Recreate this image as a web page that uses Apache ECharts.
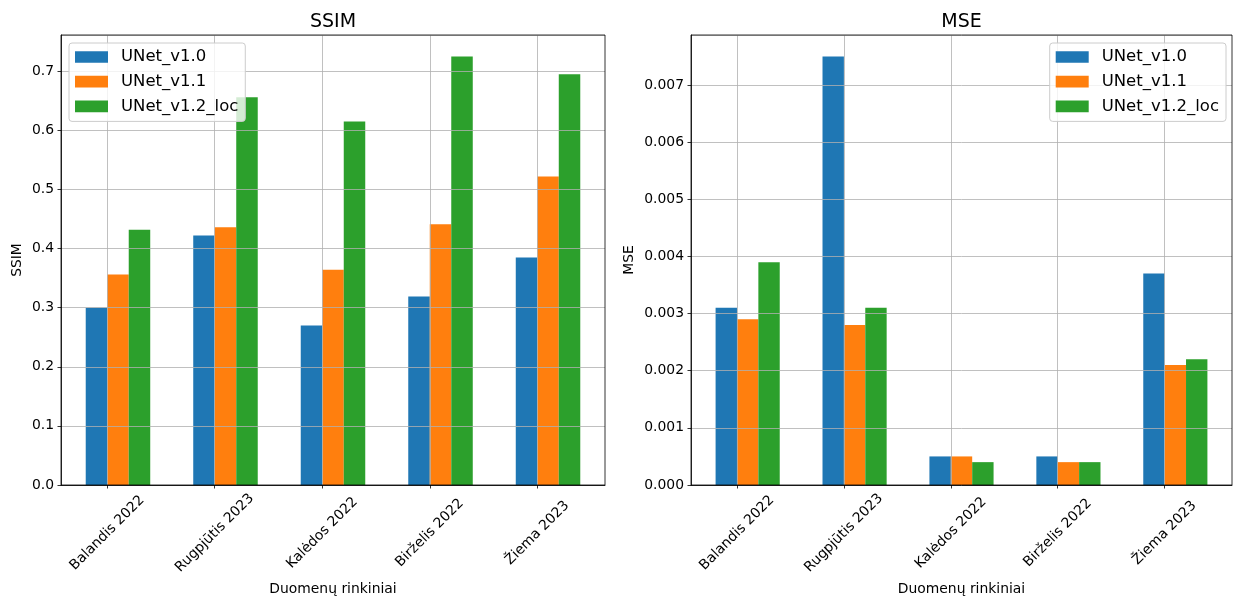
<!DOCTYPE html>
<html>
<head>
<meta charset="utf-8">
<script src="https://cdn.jsdelivr.net/npm/echarts@6/dist/echarts.min.js"></script>
<style>
  html, body { margin: 0; padding: 0; background: #ffffff; }
  #chart { width: 1237px; height: 596px; }
</style>
</head>
<body>
<div id="chart"></div>
<script>
// Datasets (x axis) and model versions (series)
const categories = ['Balandis 2022', 'Rugpjūtis 2023', 'Kalėdos 2022', 'Birželis 2022', 'Žiema 2023'];
const seriesNames = ['UNet_v1.0', 'UNet_v1.1', 'UNet_v1.2_loc'];
const seriesColors = ['#1f77b4', '#ff7f0e', '#2ca02c'];

// SSIM per dataset
const ssimV10 = [0.300, 0.422, 0.270, 0.319, 0.385];
const ssimV11 = [0.356, 0.436, 0.364, 0.441, 0.522];
const ssimV12 = [0.432, 0.656, 0.615, 0.725, 0.695];

// MSE per dataset
const mseV10 = [0.0031, 0.0075, 0.0005, 0.0005, 0.0037];
const mseV11 = [0.0029, 0.0028, 0.0005, 0.0004, 0.0021];
const mseV12 = [0.0039, 0.0031, 0.0004, 0.0004, 0.0022];

// Tick positions on the x axis (one per dataset)
const xTicks = [0, 1, 2, 3, 4];

const FONT = 'DejaVu Sans';
const BAR_W = 0.2;            // bar width in x-axis units
const X_MIN = -0.43, X_MAX = 4.63;
const GRID_COLOR = '#b0b0b0';

// bars are edge-aligned: the group of three starts one bar width left of the tick
const place = vals => vals.map((v, i) => [xTicks[i] + BAR_W / 2, v]);
const headroom = arrs => Math.max(...arrs.flat()) * 1.05;

const grids = [
  { left: 61, top: 35, width: 544, height: 450 },
  { left: 691, top: 35, width: 541, height: 450 }
];

function xAxisFor(idx) {
  return {
    type: 'value', gridIndex: idx, min: X_MIN, max: X_MAX, z: 5,
    axisLine: { show: true, onZero: false, lineStyle: { color: '#000', width: 0.8 } },
    axisTick: { show: true, length: 3.5, customValues: xTicks, lineStyle: { color: '#000', width: 0.8 } },
    axisLabel: {
      customValues: xTicks,
      formatter: v => categories[Math.round(v)],
      rotate: 45, align: 'center', verticalAlign: 'middle', margin: 48,
      fontFamily: FONT, fontSize: 13.9, color: '#000'
    },
    splitLine: { show: true, lineStyle: { color: GRID_COLOR, width: 0.8 } },
    name: 'Duomenų rinkiniai', nameLocation: 'middle', nameGap: 93,
    nameTextStyle: { fontFamily: FONT, fontSize: 13.9, color: '#000' }
  };
}

function yAxisFor(idx, name, max, interval, digits, gap) {
  return {
    type: 'value', gridIndex: idx, min: 0, max: max, interval: interval, z: 5,
    axisLine: { show: true, onZero: false, lineStyle: { color: '#000', width: 0.8 } },
    axisTick: { show: true, length: 3.5, lineStyle: { color: '#000', width: 0.8 } },
    axisLabel: {
      formatter: v => v.toFixed(digits), margin: 7, showMaxLabel: false,
      fontFamily: FONT, fontSize: 13.9, color: '#000'
    },
    splitLine: { show: true, lineStyle: { color: GRID_COLOR, width: 0.8 } },
    name: name, nameLocation: 'middle', nameGap: gap, nameRotate: 90,
    nameTextStyle: { fontFamily: FONT, fontSize: 13.9, color: '#000' }
  };
}

function barSeries(idx, valuesList) {
  return valuesList.map((vals, k) => ({
    type: 'bar', name: seriesNames[k], xAxisIndex: idx, yAxisIndex: idx,
    data: place(vals), barWidth: (BAR_W * 100) + '%', barGap: '0%', z: 2,
    itemStyle: { color: seriesColors[k] },
    emphasis: { disabled: true }
  }));
}

function legendAt(pos) {
  return Object.assign({
    top: 43, orient: 'vertical', data: seriesNames, icon: 'rect',
    itemWidth: 33, itemHeight: 11.7, itemGap: 4.7,
    padding: [4, 7, 5, 6],
    backgroundColor: 'rgba(255,255,255,0.8)', borderColor: '#cccccc',
    borderWidth: 1, borderRadius: 3, z: 10,
    textStyle: { fontFamily: FONT, fontSize: 16.5, color: '#000', lineHeight: 20, padding: [0, 0, 0, 8] }
  }, pos);
}

const ssimAll = [ssimV10, ssimV11, ssimV12];
const mseAll = [mseV10, mseV11, mseV12];

const titleStyle = { fontFamily: FONT, fontSize: 19, fontWeight: 'normal', color: '#000' };

const option = {
  animation: false,
  backgroundColor: '#ffffff',
  textStyle: { fontFamily: FONT },
  title: [
    { text: 'SSIM', left: 333, top: 21.7, padding: 0, textAlign: 'center', textVerticalAlign: 'middle', textStyle: titleStyle },
    { text: 'MSE', left: 961.5, top: 21.7, padding: 0, textAlign: 'center', textVerticalAlign: 'middle', textStyle: titleStyle }
  ],
  grid: grids.map(g => Object.assign({
    show: true, borderColor: '#000', borderWidth: 0.8, backgroundColor: 'transparent', z: 6,
    containLabel: false, outerBoundsMode: 'none'
  }, g)),
  legend: [legendAt({ left: 69 }), legendAt({ right: 11 })],
  xAxis: [xAxisFor(0), xAxisFor(1)],
  yAxis: [
    yAxisFor(0, 'SSIM', headroom(ssimAll), 0.1, 1, 37),
    yAxisFor(1, 'MSE', headroom(mseAll), 0.001, 3, 55)
  ],
  series: [...barSeries(0, ssimAll), ...barSeries(1, mseAll)]
};

const chart = echarts.init(document.getElementById('chart'), null, { renderer: 'canvas' });
chart.setOption(option);
</script>
</body>
</html>
